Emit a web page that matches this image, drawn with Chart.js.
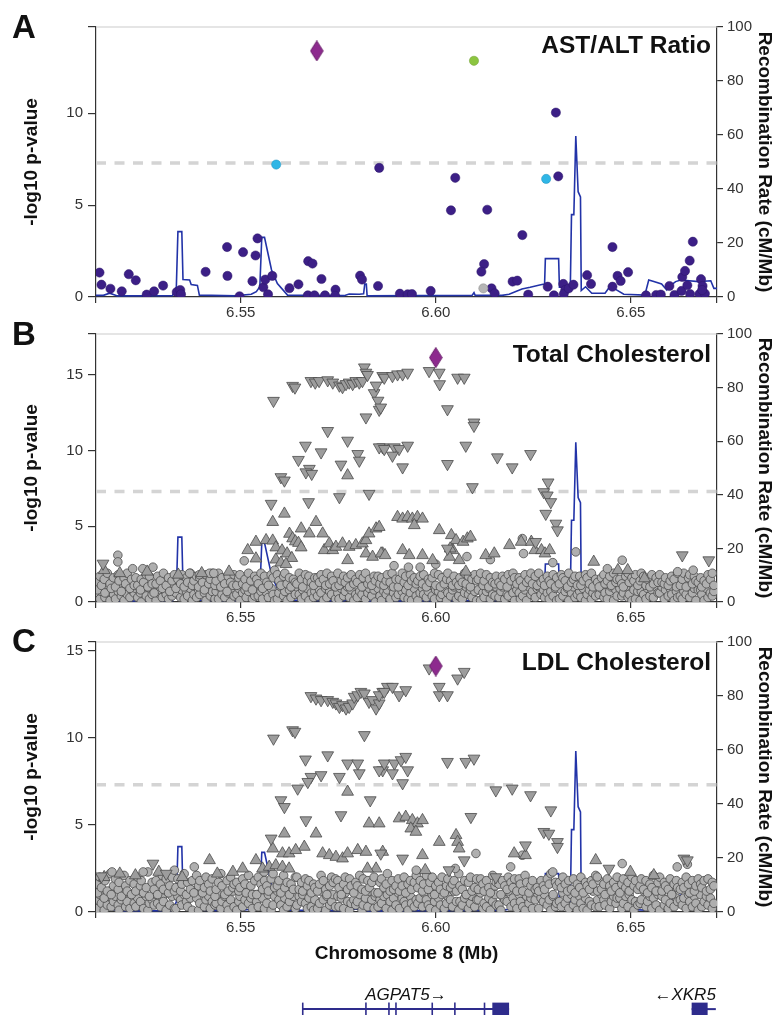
<!DOCTYPE html>
<html>
<head>
<meta charset="utf-8">
<script src="https://cdn.jsdelivr.net/npm/chart.js@4.4.1/dist/chart.umd.min.js"></script>
<style>
  body { margin: 0; background: #fff; width: 776px; height: 1023px; position: relative; overflow: hidden; }
  canvas { position: absolute; left: 0; }
</style>
</head>
<body>
<canvas id="chartA" width="776" height="320" style="top:0"></canvas>
<canvas id="chartB" width="776" height="305" style="top:320px"></canvas>
<canvas id="chartC" width="776" height="350" style="top:625px"></canvas>
<canvas id="chartGenes" width="776" height="48" style="top:975px"></canvas>
<script>
// x range (Mb) and tick values
const xMin = 6.5129;
const xMax = 6.6721;
const xTicks = [6.55, 6.60, 6.65];
const recTicks = [0, 20, 40, 60, 80, 100];
const pTicksA = [0, 5, 10];
const pTicksB = [0, 5, 10, 15];
const pTicksC = [0, 5, 10, 15];
const sigLevel = 7.3;

// recombination rate (cM/Mb), same map under every panel
const recX = [6.5128, 6.5148, 6.5164, 6.5184, 6.5325, 6.5335, 6.5339, 6.5349, 6.5352, 6.5369,
  6.5373, 6.5389, 6.5394, 6.5486, 6.5527, 6.5540, 6.5549, 6.5554, 6.5561, 6.5579,
  6.5594, 6.5620, 6.5765, 6.5778, 6.5804, 6.5815, 6.5818, 6.5822, 6.5824, 6.6093,
  6.6098, 6.6101, 6.6170, 6.6188, 6.6221, 6.6242, 6.6272, 6.6279, 6.6281, 6.6315,
  6.6317, 6.6345, 6.6348, 6.6354, 6.6359, 6.6365, 6.6371, 6.6373, 6.6384, 6.6400,
  6.6434, 6.6446, 6.6459, 6.6482, 6.6536, 6.6546, 6.6559, 6.6579, 6.6592, 6.6597,
  6.6615, 6.6628, 6.6674, 6.6705, 6.6713, 6.6721];
const recRate = [0.6, 0.6, 1.4, 0.4, 0.5, 3.8, 24.2, 24.2, 6.5, 6.3,
  4.6, 4.3, 0.7, 0.4, 1.0, 2.0, 3.8, 22.1, 22.1, 10,
  5, 0.7, 0.5, 1.1, 1.0, 1.2, 4.8, 4.8, 0.4, 0.6,
  1.6, 0.6, 0.6, 1.0, 3.0, 3.6, 4.6, 4.8, 14.2, 14.2,
  3.6, 3.8, 30.5, 30.5, 59.6, 39, 37.1, 2.4, 3.8, 1.4,
  1.4, 3.8, 3.0, 1.0, 0.7, 6.3, 5.7, 4.8, 2.6, 3.8,
  5.7, 6.3, 5.7, 6.0, 3.2, 3.2];

// panel A: AST/ALT ratio  [position Mb, -log10 p]
const aLead = [[6.5695, 13.4]];
const aGreen = [[6.6098, 12.86]];
const aCyan = [[6.5591, 7.21], [6.6283, 6.43]];
const aGrey = [[6.6122, 0.47]];
const aPurple = [[6.5138,1.33],[6.5143,0.67],[6.5166,0.45],[6.5195,0.31],[6.5213,1.24],[6.5231,0.91],[6.5259,0.13],[6.5278,0.31],
  [6.5301,0.62],[6.5336,0.27],[6.5345,0.38],[6.5347,0.15],[6.5410,1.37],[6.5465,2.72],[6.5466,1.15],[6.5497,0.04],
  [6.5506,2.44],[6.5530,0.86],[6.5538,2.26],[6.5543,3.19],[6.5558,0.53],[6.5563,0.95],[6.5570,0.15],[6.5581,1.15],
  [6.5625,0.48],[6.5648,0.69],[6.5673,1.95],[6.5684,1.82],[6.5672,0.09],[6.5689,0.09],[6.5707,0.98],[6.5716,0.09],
  [6.5743,0.40],[6.5742,0.07],[6.5806,1.16],[6.5811,0.95],[6.5852,0.60],[6.5908,0.18],[6.5928,0.15],[6.5855,7.03],
  [6.6039,4.72],[6.6050,6.49],[6.6132,4.75],[6.6222,3.37],[6.6124,1.79],[6.6117,1.38],[6.6143,0.47],[6.6151,0.20],
  [6.5987,0.33],[6.5939,0.16],[6.6197,0.84],[6.6209,0.89],[6.6237,0.13],[6.6287,0.56],[6.6303,0.09],[6.6327,0.71],
  [6.6332,0.38],[6.6328,0.16],[6.6341,0.47],[6.6353,0.67],[6.6388,1.19],[6.6398,0.71],[6.6453,2.72],[6.6466,1.15],
  [6.6474,0.87],[6.6453,0.56],[6.6493,1.35],[6.6539,0.09],[6.6565,0.11],[6.6577,0.13],[6.6599,0.60],[6.6612,0.11],
  [6.6630,0.33],[6.6632,1.09],[6.6639,1.42],[6.6645,0.64],[6.6651,1.98],[6.6659,3.01],[6.6652,0.16],[6.6680,0.97],
  [6.6684,0.60],[6.6676,0.16],[6.6690,0.18],[6.6683,0.38],[6.6308,10.04],[6.6314,6.57]];

// SNP positions of the dense low band (shared by panels B and C)
const bandPos = [6.5130, 6.5133, 6.5139, 6.5143, 6.5150, 6.5152, 6.5158, 6.5165, 6.5168, 6.5174,
  6.5179, 6.5186, 6.5188, 6.5194, 6.5201, 6.5205, 6.5209, 6.5216, 6.5220, 6.5227,
  6.5231, 6.5236, 6.5243, 6.5245, 6.5251, 6.5258, 6.5262, 6.5266, 6.5273, 6.5278,
  6.5283, 6.5287, 6.5294, 6.5299, 6.5302, 6.5309, 6.5315, 6.5318, 6.5324, 6.5330,
  6.5334, 6.5339, 6.5346, 6.5349, 6.5355, 6.5361, 6.5364, 6.5371, 6.5376, 6.5380,
  6.5387, 6.5392, 6.5395, 6.5402, 6.5407, 6.5411, 6.5418, 6.5422, 6.5427, 6.5434,
  6.5437, 6.5443, 6.5449, 6.5452, 6.5459, 6.5465, 6.5468, 6.5474, 6.5480, 6.5483,
  6.5490, 6.5495, 6.5498, 6.5505, 6.5511, 6.5514, 6.5520, 6.5526, 6.5530, 6.5536,
  6.5541, 6.5545, 6.5552, 6.5556, 6.5561, 6.5567, 6.5571, 6.5578, 6.5583, 6.5587,
  6.5594, 6.5598, 6.5603, 6.5610, 6.5613, 6.5619, 6.5625, 6.5629, 6.5635, 6.5640,
  6.5644, 6.5650, 6.5656, 6.5659, 6.5666, 6.5671, 6.5675, 6.5681, 6.5687, 6.5690,
  6.5697, 6.5702, 6.5706, 6.5712, 6.5718, 6.5721, 6.5728, 6.5733, 6.5737, 6.5743,
  6.5749, 6.5752, 6.5758, 6.5764, 6.5768, 6.5774, 6.5779, 6.5783, 6.5790, 6.5795,
  6.5799, 6.5805, 6.5811, 6.5814, 6.5820, 6.5826, 6.5830, 6.5836, 6.5842, 6.5845,
  6.5852, 6.5857, 6.5861, 6.5867, 6.5873, 6.5876, 6.5883, 6.5888, 6.5892, 6.5898,
  6.5904, 6.5907, 6.5914, 6.5919, 6.5923, 6.5929, 6.5935, 6.5938, 6.5945, 6.5950,
  6.5954, 6.5960, 6.5966, 6.5969, 6.5976, 6.5981, 6.5985, 6.5991, 6.5997, 6.6000,
  6.6007, 6.6012, 6.6016, 6.6022, 6.6028, 6.6031, 6.6038, 6.6043, 6.6047, 6.6053,
  6.6059, 6.6062, 6.6068, 6.6074, 6.6078, 6.6084, 6.6089, 6.6093, 6.6100, 6.6105,
  6.6109, 6.6115, 6.6121, 6.6124, 6.6130, 6.6136, 6.6140, 6.6146, 6.6152, 6.6155,
  6.6162, 6.6167, 6.6171, 6.6177, 6.6183, 6.6186, 6.6193, 6.6198, 6.6202, 6.6208,
  6.6214, 6.6217, 6.6223, 6.6229, 6.6233, 6.6239, 6.6244, 6.6248, 6.6255, 6.6260,
  6.6264, 6.6270, 6.6276, 6.6279, 6.6286, 6.6291, 6.6295, 6.6301, 6.6307, 6.6310,
  6.6317, 6.6322, 6.6326, 6.6332, 6.6338, 6.6341, 6.6348, 6.6353, 6.6357, 6.6363,
  6.6369, 6.6372, 6.6378, 6.6384, 6.6388, 6.6394, 6.6399, 6.6403, 6.6410, 6.6415,
  6.6419, 6.6425, 6.6431, 6.6434, 6.6440, 6.6446, 6.6450, 6.6456, 6.6462, 6.6465,
  6.6472, 6.6477, 6.6481, 6.6487, 6.6493, 6.6496, 6.6503, 6.6508, 6.6512, 6.6518,
  6.6524, 6.6527, 6.6533, 6.6539, 6.6543, 6.6549, 6.6554, 6.6558, 6.6565, 6.6570,
  6.6574, 6.6580, 6.6586, 6.6589, 6.6596, 6.6601, 6.6605, 6.6611, 6.6617, 6.6620,
  6.6627, 6.6632, 6.6636, 6.6642, 6.6648, 6.6651, 6.6658, 6.6663, 6.6667, 6.6673,
  6.6679, 6.6682, 6.6688, 6.6694, 6.6698, 6.6704, 6.6709, 6.6713];

// panel B: total cholesterol
const bBandLo = [0.4,0.9,0.2,0.7,1.0,0.3,0.6,0.1,0.8,0.5, 0.2,0.7,1.1,0.4,0.1,0.9,0.5,0.3,0.8,0.6,
  0.9,0.3,0.6,0.0,0.8,0.4,1.0,0.2,0.5,0.7, 0.1,0.6,0.8,0.3,0.9,0.5,0.2,1.1,0.4,0.7,
  0.6,1.0,0.3,0.8,0.2,0.7,0.4,0.9,0.1,0.5, 0.3,0.8,0.5,1.0,0.6,0.1,0.9,0.4,0.7,0.2,
  0.7,0.2,0.9,0.5,0.3,1.1,0.6,0.0,0.8,0.4, 0.5,0.9,0.1,0.6,0.8,0.3,0.7,1.0,0.2,0.4,
  0.8,0.4,0.7,0.2,1.0,0.6,0.3,0.9,0.5,0.1, 0.2,0.6,1.0,0.4,0.7,0.1,0.8,0.3,0.9,0.5,
  1.0,0.5,0.2,0.8,0.4,0.9,0.1,0.6,0.3,0.7, 0.4,0.8,0.6,0.1,0.9,0.3,0.7,0.5,1.1,0.2,
  0.6,0.2,0.9,0.4,0.7,1.0,0.3,0.8,0.1,0.5, 0.3,0.7,0.5,1.0,0.2,0.6,0.9,0.4,0.8,0.0,
  0.9,0.4,0.1,0.7,0.5,0.8,0.2,1.0,0.6,0.3, 0.5,1.0,0.7,0.3,0.8,0.2,0.6,0.1,0.9,0.4,
  0.1,0.6,0.9,0.5,0.3,0.7,1.1,0.4,0.2,0.8, 0.7,0.3,0.5,0.9,0.1,0.6,0.4,0.8,1.0,0.2,
  0.4,0.9,0.2,0.6,1.0,0.5,0.8,0.3,0.7,0.1, 0.8,0.1,0.6,0.3,0.7,0.9,0.2,0.5,0.4,1.0,
  0.3,0.7,1.0,0.2,0.5,0.4,0.9,0.6,0.1,0.8, 0.6,0.2,0.4,0.8,0.1,1.0,0.5,0.7,0.3,0.9,
  1.0,0.5,0.8,0.3,0.6,0.2,0.7,0.4,0.9,0.1, 0.2,0.8,0.4,0.7,0.9,0.1,0.6,1.0,0.3,0.5,
  0.7,0.3,0.9,0.1,0.5,0.8,0.2,0.6,0.4,1.1, 0.5,0.9,0.3,0.6,0.2,0.7,1.0,0.1,0.8,0.4,
  0.9,0.4,0.6,1.0,0.3,0.5,0.1,0.8,0.2,0.7, 0.1,0.7,0.5,0.2,0.9,0.4,0.8,0.3,1.0,0.6,
  0.6,1.0,0.2,0.8,0.4,0.9,0.5,0.1,0.7,0.3, 0.4,0.2,0.7,0.5,1.0,0.3,0.6,0.9,0.1,0.8,
  0.8,0.5,0.1,0.9,0.3,0.6,0.4,0.7];
const bBandHi = [1.3,0.8,1.7,1.1,1.5,0.6,1.9,1.2,0.9,1.6, 1.0,1.8,1.4,0.7,1.6,1.2,1.9,0.9,1.5,1.1,
  1.6,1.1,0.8,1.5,1.3,1.8,1.0,1.7,1.2,0.6, 1.2,1.7,1.4,0.9,1.9,1.1,1.6,0.7,1.4,1.8,
  0.9,1.5,1.2,1.8,1.0,1.6,1.3,1.9,1.1,1.4, 1.7,1.0,1.6,1.3,0.8,1.8,1.2,1.5,1.9,1.1,
  1.4,1.9,1.0,1.6,1.2,0.7,1.7,1.3,1.1,1.8, 1.1,1.6,1.8,1.2,1.5,1.0,1.9,1.4,0.8,1.7,
  1.5,1.2,1.9,0.9,1.7,1.3,1.1,1.8,1.6,2.1, 1.8,1.4,1.1,1.7,1.9,1.2,1.6,1.0,1.5,1.3,
  1.2,1.9,1.5,1.0,1.8,1.4,1.7,1.3,1.1,1.6, 1.6,1.3,1.8,1.5,1.1,1.9,1.2,1.7,1.4,1.0,
  1.9,1.1,1.4,1.7,1.3,1.6,1.0,1.8,1.2,1.5, 1.3,1.8,1.0,1.6,1.9,1.2,1.5,1.1,1.7,1.4,
  1.7,1.2,1.6,1.1,1.4,1.8,1.3,1.9,1.0,1.5, 1.0,1.5,1.9,1.3,1.7,1.1,1.8,1.4,1.6,1.2,
  1.4,1.7,1.2,1.8,1.0,1.5,1.3,1.6,1.9,1.1, 1.8,1.0,1.6,1.2,1.5,1.9,1.4,1.1,1.7,1.3,
  1.1,1.6,1.3,1.9,1.2,1.7,1.0,1.5,1.8,1.4, 1.5,1.9,1.1,1.4,1.8,1.0,1.6,1.3,1.2,1.7,
  1.3,1.1,1.7,1.5,1.0,1.8,1.4,1.9,1.6,1.2, 1.6,1.4,1.0,1.8,1.3,1.5,1.9,1.2,1.7,1.1,
  1.9,1.3,1.5,1.1,1.7,1.4,1.2,1.8,1.0,1.6, 1.2,1.8,1.6,1.4,1.0,1.9,1.3,1.5,1.7,1.1,
  1.7,1.1,1.4,1.8,1.6,1.2,1.9,1.0,1.5,1.3, 1.0,1.6,1.8,1.2,1.4,1.7,1.1,1.9,1.3,1.5,
  1.5,1.2,1.0,1.7,1.9,1.3,1.6,1.4,1.8,1.1, 1.4,1.9,1.7,1.1,1.5,1.0,1.8,1.2,1.6,1.3,
  1.8,1.3,1.2,1.6,1.1,1.4,1.7,1.5,1.0,1.9, 1.1,1.5,1.9,1.0,1.6,1.8,1.2,1.7,1.4,1.3,
  1.6,1.0,1.4,1.2,1.8,1.5,1.9,1.1];
const bCirc = [[6.5185,3.09],[6.5185,2.65],[6.5509,2.72],[6.6222,4.19],[6.6359,3.31],[6.6478,2.76],[6.5893,2.4],[6.5930,2.3],
  [6.5960,2.3],[6.6000,2.5],[6.6080,3.0],[6.6140,2.8],[6.6225,3.2],[6.6300,2.6],[6.6440,2.2],[6.6620,2.0],
  [6.6660,2.1],[6.5223,2.2],[6.5249,2.2],[6.5275,2.3],[6.5369,1.9],[6.5394,1.8],[6.5420,1.9],[6.5431,1.9]];
const bUp = [[6.5582,5.28],[6.5612,5.83],[6.5693,5.28],[6.5655,4.85],[6.5710,4.52],[6.5676,4.52],[6.5774,8.36],[6.5625,4.5],
  [6.5633,4.2],[6.5640,4.0],[6.5648,3.9],[6.5655,3.6],[6.5539,3.97],[6.5565,4.08],[6.5582,4.05],[6.5590,3.6],
  [6.5606,3.4],[6.5619,3.2],[6.5631,2.9],[6.5518,3.42],[6.5539,2.87],[6.5590,2.8],[6.5603,2.6],[6.5616,2.5],
  [6.5714,3.42],[6.5727,3.86],[6.5736,3.42],[6.5744,3.64],[6.5761,3.86],[6.5778,3.64],[6.5795,3.75],[6.5812,3.86],
  [6.5821,4.08],[6.5829,4.52],[6.5847,4.85],[6.5774,2.76],[6.5821,3.2],[6.5838,2.98],[6.5864,3.2],[6.5855,4.95],
  [6.5902,5.61],[6.5915,5.5],[6.5928,5.61],[6.5940,5.5],[6.5953,5.61],[6.5966,5.5],[6.5945,5.07],[6.6009,4.74],
  [6.6040,4.41],[6.6052,4.08],[6.6070,3.97],[6.6081,4.19],[6.6089,4.3],[6.6044,3.42],[6.6037,3.53],[6.6189,3.75],
  [6.6219,3.97],[6.6245,3.97],[6.6254,3.42],[6.6271,3.42],[6.6280,3.2],[6.6292,3.42],[6.6405,2.65],[6.6467,2.1],
  [6.6492,2.1],[6.6535,1.56],[6.5860,3.2],[6.5870,3.09],[6.5915,3.42],[6.5932,3.09],[6.5966,3.09],[6.5992,2.76],
  [6.6060,2.76],[6.6128,3.09],[6.6150,3.2],[6.6077,2.0],[6.6035,2.98],[6.5150,2.1],[6.5190,1.9],[6.5260,2.0],
  [6.5340,1.8],[6.5400,1.9],[6.5470,2.0]];
const bDown = [[6.5147,2.54],[6.5584,13.29],[6.5633,14.28],[6.5639,14.17],[6.5680,14.6],[6.5691,14.5],[6.5701,14.6],[6.5723,14.65],
  [6.5736,14.5],[6.5753,14.3],[6.5761,14.2],[6.5770,14.4],[6.5778,14.5],[6.5787,14.4],[6.5795,14.6],[6.5804,14.5],
  [6.5812,14.6],[6.5817,15.5],[6.5821,15.15],[6.5825,15.0],[6.5842,13.8],[6.5847,14.3],[6.5852,13.3],[6.5855,12.7],
  [6.5859,12.85],[6.5821,12.2],[6.5864,14.93],[6.5868,14.82],[6.5889,14.93],[6.5902,15.04],[6.5915,15.04],[6.5928,15.15],
  [6.5983,15.26],[6.6009,15.15],[6.6010,14.39],[6.6056,14.82],[6.6073,14.82],[6.6030,12.74],[6.6098,11.86],[6.6098,11.64],
  [6.5723,11.3],[6.5666,10.33],[6.5706,9.89],[6.5648,9.39],[6.5676,8.8],[6.5667,8.57],[6.5682,8.47],[6.5757,9.08],
  [6.5774,10.66],[6.5800,9.78],[6.5804,9.34],[6.5864,10.22],[6.5603,8.25],[6.5612,8.03],[6.5753,6.93],[6.5829,7.15],
  [6.5674,6.6],[6.5578,6.49],[6.5855,10.22],[6.5868,10.11],[6.5894,10.22],[6.5906,10.11],[6.5928,10.33],[6.5915,8.9],
  [6.5889,9.67],[6.6030,9.12],[6.6077,10.33],[6.6158,9.56],[6.6196,8.9],[6.6243,9.78],[6.6094,7.59],[6.6277,7.26],
  [6.6288,7.9],[6.6286,7.04],[6.6295,6.6],[6.6282,5.83],[6.6308,5.18],[6.6312,4.74],[6.6632,3.09],[6.6700,2.76],
  [6.6030,3.53],[6.6256,3.97]];
const bLead = [[6.6000, 16.14]];

// panel C: LDL cholesterol
const cBandLo = [0.7,0.2,1.0,0.5,0.1,0.8,0.4,1.2,0.3,0.6, 0.9,0.4,0.1,0.7,1.1,0.3,0.6,0.2,1.0,0.5,
  0.3,0.8,0.6,1.2,0.2,0.9,0.1,0.5,0.7,0.4, 1.0,0.5,0.3,0.8,0.6,0.1,1.1,0.4,0.9,0.2,
  0.2,0.9,0.7,0.4,1.0,0.6,0.3,0.8,0.1,1.2, 0.8,0.1,0.5,1.1,0.3,0.7,0.9,0.2,0.6,0.4,
  0.5,1.0,0.2,0.6,0.9,0.4,0.1,0.7,1.2,0.3, 0.1,0.6,0.9,0.3,0.7,1.1,0.5,0.8,0.2,1.0,
  0.6,0.3,1.1,0.8,0.2,0.5,1.0,0.1,0.4,0.9, 1.2,0.7,0.4,0.1,0.8,0.3,0.6,1.0,0.9,0.2,
  0.4,0.9,0.6,1.0,0.5,0.2,0.8,0.3,0.1,0.7, 0.2,0.5,1.2,0.7,0.1,0.9,0.4,0.6,1.0,0.3,
  0.9,0.3,0.8,0.2,1.1,0.6,0.1,0.5,0.7,0.4, 0.6,1.0,0.1,0.4,0.8,0.3,1.2,0.7,0.2,0.9,
  0.3,0.7,0.5,0.9,0.2,1.0,0.6,0.1,0.8,0.4, 1.1,0.2,0.8,0.6,0.4,0.1,0.9,0.5,0.3,0.7,
  0.5,0.8,0.3,1.1,0.7,0.4,0.2,1.0,0.6,0.1, 0.8,0.4,1.0,0.2,0.5,0.9,0.7,0.3,1.2,0.6,
  0.1,0.6,0.4,0.8,1.0,0.2,0.5,0.9,0.3,0.7, 0.7,1.1,0.2,0.5,0.3,0.8,0.1,0.6,1.0,0.4,
  0.4,0.1,0.9,0.7,0.6,1.2,0.3,0.8,0.5,0.2, 1.0,0.6,0.3,0.1,0.9,0.5,0.8,0.2,0.7,1.1,
  0.2,0.8,0.6,1.0,0.4,0.7,0.1,0.9,0.3,0.5, 0.6,0.3,1.1,0.5,0.8,0.2,1.0,0.4,0.7,0.1,
  0.9,0.5,0.2,0.8,0.1,0.6,0.4,1.2,0.3,0.7, 0.3,1.0,0.7,0.4,1.1,0.2,0.6,0.9,0.5,0.8,
  0.8,0.2,0.5,0.9,0.3,1.0,0.7,0.1,0.6,0.4, 0.5,0.7,1.2,0.3,0.6,0.9,0.2,0.8,0.4,1.0,
  0.1,0.9,0.4,0.7,0.2,0.5,1.1,0.3,0.8,0.6, 0.7,0.4,0.8,0.2,1.0,0.6,0.3,0.9,0.5,0.1,
  1.0,0.3,0.6,0.9,0.4,0.8,0.2,0.5];
const cBandHi = [1.6,1.1,2.0,1.4,0.8,1.8,1.2,2.2,1.0,1.5, 1.9,1.3,1.7,0.9,2.1,1.5,1.2,1.8,1.0,1.6,
  1.2,2.0,1.5,1.8,1.1,1.4,2.3,0.9,1.7,1.3, 1.8,1.0,1.6,2.1,1.3,1.9,1.1,1.5,2.0,1.2,
  1.4,1.9,1.2,1.6,2.2,1.0,1.7,1.3,1.8,1.1, 2.1,1.5,1.8,1.1,1.4,2.0,1.6,1.2,1.9,0.9,
  1.3,1.7,2.2,1.5,1.0,1.8,1.2,2.0,1.4,1.6, 1.7,1.2,1.4,1.9,1.6,1.1,2.1,1.5,1.0,1.8,
  1.0,2.0,1.6,1.3,1.8,1.5,1.2,1.9,2.2,1.4, 1.5,1.8,1.1,2.1,1.4,1.7,1.0,1.6,1.3,2.0,
  2.0,1.3,1.7,1.2,1.9,1.5,1.8,1.1,1.6,1.4, 1.2,1.6,2.1,1.8,1.3,1.0,1.5,2.0,1.7,1.9,
  1.8,1.4,1.0,1.6,2.0,1.3,1.9,1.5,1.1,1.7, 1.5,2.1,1.3,1.9,1.2,1.8,1.4,1.7,2.0,1.1,
  1.1,1.7,1.9,1.4,1.6,2.2,1.2,1.8,1.3,1.5, 1.9,1.2,1.5,2.0,1.1,1.6,1.8,1.3,1.7,2.1,
  1.4,1.8,1.2,1.6,2.1,1.3,1.7,2.0,1.0,1.5, 1.7,1.3,2.0,1.1,1.5,1.9,1.4,1.6,1.8,1.2,
  2.2,1.5,1.3,1.8,1.0,1.7,2.0,1.2,1.4,1.9, 1.3,1.9,1.6,1.2,1.8,1.4,1.1,2.1,1.5,1.7,
  1.6,1.0,1.8,1.5,1.3,2.0,1.7,1.4,1.9,1.2, 1.9,1.6,1.2,2.1,1.7,1.1,1.5,1.8,1.3,1.4,
  1.2,1.8,1.5,1.3,1.9,1.6,2.2,1.0,1.7,1.5, 1.7,1.4,2.0,1.6,1.2,1.8,1.3,1.9,1.1,1.6,
  1.4,2.0,1.1,1.7,1.5,1.3,1.8,1.6,2.1,1.2, 1.8,1.3,1.6,1.0,1.9,1.5,1.2,1.7,1.4,2.0,
  1.1,1.6,1.9,1.4,1.7,1.2,2.0,1.5,1.8,1.3, 1.5,1.9,1.3,1.8,1.1,1.6,1.4,2.1,1.2,1.7,
  2.0,1.2,1.7,1.5,1.3,1.9,1.0,1.6,1.8,1.4, 1.3,1.7,1.4,2.0,1.6,1.1,1.8,1.2,1.5,1.9,
  1.6,1.4,1.8,1.2,1.9,1.3,1.7,1.5];
const cCirc = [[6.5381,2.59],[6.6103,3.36],[6.6222,3.26],[6.6192,2.59],[6.6619,2.59],[6.6645,2.74],[6.6478,2.78],[6.6414,2.01],
  [6.5170,2.3],[6.5250,2.3],[6.5330,2.4],[6.5560,2.3],[6.5950,2.4],[6.6050,2.5],[6.6300,2.3]];
const cUp = [[6.5612,4.5],[6.5693,4.5],[6.5582,3.64],[6.5663,3.74],[6.5774,6.9],[6.5829,5.08],[6.5855,5.08],[6.5539,2.97],
  [6.5420,2.97],[6.5505,2.49],[6.5710,3.36],[6.5727,3.26],[6.5744,3.16],[6.5761,3.07],[6.5774,3.36],[6.5800,3.55],
  [6.5821,3.45],[6.5864,3.45],[6.5847,2.49],[6.5825,2.49],[6.5556,2.49],[6.5573,2.59],[6.5590,2.68],[6.5607,2.59],
  [6.5624,2.49],[6.5607,3.36],[6.5624,3.36],[6.5641,3.55],[6.5906,5.37],[6.5923,5.46],[6.5940,5.27],[6.5953,5.08],
  [6.5966,5.27],[6.5936,4.79],[6.5949,4.6],[6.6009,4.02],[6.6052,4.41],[6.6056,4.02],[6.6060,3.64],[6.5966,3.26],
  [6.6201,3.36],[6.6230,3.26],[6.6410,2.97],[6.6499,2.3],[6.6559,2.11],[6.5973,2.4],[6.5150,2.0],[6.5190,2.2],
  [6.5230,2.1],[6.5290,2.3],[6.5350,2.0],[6.5440,2.2],[6.5480,2.3]];
const cDown = [[6.5680,12.4],[6.5693,12.26],[6.5706,12.17],[6.5723,12.17],[6.5736,12.07],[6.5744,11.98],[6.5753,11.78],[6.5761,11.88],
  [6.5770,11.69],[6.5778,11.78],[6.5787,11.98],[6.5791,12.36],[6.5800,12.45],[6.5808,12.64],[6.5817,12.55],[6.5829,12.07],
  [6.5838,12.17],[6.5847,11.69],[6.5855,11.98],[6.5864,12.64],[6.5876,12.93],[6.5855,12.45],[6.5868,12.64],[6.5889,12.93],
  [6.5906,12.45],[6.5923,12.74],[6.5983,13.99],[6.6009,12.93],[6.6009,12.45],[6.6030,12.45],[6.6056,13.41],[6.6073,13.79],
  [6.5584,9.96],[6.5633,10.44],[6.5639,10.35],[6.5666,8.76],[6.5723,9.0],[6.5680,7.76],[6.5672,7.47],[6.5706,7.86],
  [6.5646,7.09],[6.5753,7.76],[6.5774,8.53],[6.5800,8.53],[6.5804,7.97],[6.5817,10.16],[6.5864,8.14],[6.5603,6.42],
  [6.5612,6.03],[6.5832,6.42],[6.5757,5.56],[6.5667,5.27],[6.5578,4.22],[6.5275,2.78],[6.5309,2.2],[6.5143,2.05],
  [6.5855,8.14],[6.5868,8.53],[6.5894,8.53],[6.5889,7.97],[6.5911,8.72],[6.5923,8.91],[6.5915,7.4],[6.5928,8.14],
  [6.6030,8.62],[6.6077,8.62],[6.6098,8.81],[6.6154,6.99],[6.6196,7.09],[6.6243,6.71],[6.6090,5.46],[6.6295,5.84],
  [6.6277,4.6],[6.6290,4.5],[6.6312,4.02],[6.6312,3.74],[6.6230,3.83],[6.6073,2.97],[6.6034,2.4],[6.6154,2.0],
  [6.6444,2.49],[6.6636,3.07],[6.6645,2.97],[6.5859,3.36],[6.5915,3.07]];
const cLead = [[6.6000, 14.12]];

// gene track (Mb)
const agpat5Span = [6.5659, 6.6188];
const agpat5Exons = [6.5659, 6.5821, 6.5880, 6.5898, 6.5991, 6.6049, 6.6125];
const agpat5Block = [6.6145, 6.6188];
const xkr5Span = [6.6656, 6.6718];
const xkr5Block = [6.6656, 6.6697];

const FONT = '"Liberation Sans", Arial, sans-serif';
Chart.defaults.font.family = FONT;
Chart.defaults.color = '#333';
Chart.defaults.animation = false;

function toPts(pairs) {
  return pairs.map(p => ({ x: p[0], y: p[1] }));
}
function bandPts(ys) {
  return bandPos.map((x, i) => ({ x: x, y: ys[i] }));
}

function makeDiamond() {
  const c = document.createElement('canvas');
  c.width = 14;
  c.height = 21;
  const g = c.getContext('2d');
  g.beginPath();
  g.moveTo(7, 0.5);
  g.lineTo(13.3, 10.5);
  g.lineTo(7, 20.5);
  g.lineTo(0.7, 10.5);
  g.closePath();
  g.fillStyle = '#8d2a8e';
  g.fill();
  g.strokeStyle = '#6a1e6b';
  g.lineWidth = 1;
  g.stroke();
  return c;
}
const diamond = makeDiamond();

const edge = '#4a4a4a';
const styles = {
  lead: { pointStyle: diamond, pointRadius: 10 },
  purple: { pointRadius: 4.6, pointBackgroundColor: '#3c1f86', pointBorderColor: '#2c176a', pointBorderWidth: 0.5 },
  green: { pointRadius: 4.6, pointBackgroundColor: '#8cc540', pointBorderColor: '#6c9c2e', pointBorderWidth: 0.5 },
  cyan: { pointRadius: 4.6, pointBackgroundColor: '#2fb6e6', pointBorderColor: '#1d8fba', pointBorderWidth: 0.5 },
  grey: { pointRadius: 4.6, pointBackgroundColor: '#b5b5b5', pointBorderColor: '#8a8a8a', pointBorderWidth: 0.5 },
  dot: { pointRadius: 4.3, pointBackgroundColor: '#afafaf', pointBorderColor: edge, pointBorderWidth: 0.8 },
  up: { pointStyle: 'triangle', pointRadius: 6.8, pointBackgroundColor: '#9d9d9d', pointBorderColor: edge, pointBorderWidth: 0.8 },
  down: { pointStyle: 'triangle', pointRotation: 180, pointRadius: 6.8, pointBackgroundColor: '#9d9d9d', pointBorderColor: edge, pointBorderWidth: 0.8 }
};

function markSet(data, style, order) {
  return Object.assign({ data: data, yAxisID: 'y', order: order, clip: 0, showLine: false }, style);
}
function recombSet(order) {
  return {
    data: recX.map((x, i) => ({ x: x, y: recRate[i] })),
    yAxisID: 'y2', showLine: true, borderColor: '#2233a8', borderWidth: 1.6,
    pointRadius: 0, order: order, clip: 0
  };
}
function sigSet(order) {
  return {
    data: [{ x: xMin, y: sigLevel }, { x: xMax, y: sigLevel }],
    yAxisID: 'y', showLine: true, borderColor: '#d4d4d4', borderWidth: 3.5,
    borderDash: [10, 8.5], pointRadius: 0, order: order
  };
}

function makeScales(yMax, yTicks, xAxisH, showXTitle) {
  const tickFont = { size: 15 };
  const titleFont = { size: 19, weight: 'bold' };
  return {
    x: {
      type: 'linear', min: xMin, max: xMax,
      afterBuildTicks: s => { s.ticks = [xMin].concat(xTicks, [xMax]).map(v => ({ value: v })); },
      afterFit: s => { s.height = xAxisH; },
      grid: { drawOnChartArea: false, drawTicks: true, tickLength: 6, color: '#333', lineWidth: 1.2 },
      border: { color: '#333', width: 1.2 },
      ticks: { autoSkip: false, maxRotation: 0, padding: 1, color: '#333', font: tickFont,
        callback: v => xTicks.includes(v) ? v.toFixed(2) : '' },
      title: { display: showXTitle, text: 'Chromosome 8 (Mb)', color: '#111', font: titleFont,
        padding: { top: 0, bottom: 9.5 } }
    },
    y: {
      type: 'linear', position: 'left', min: 0, max: yMax,
      afterBuildTicks: s => { s.ticks = yTicks.concat([yMax]).map(v => ({ value: v })); },
      afterFit: s => { s.width = 96; },
      grid: { drawOnChartArea: false, drawTicks: true, tickLength: 8, color: '#333', lineWidth: 1.2 },
      border: { color: '#333', width: 1.2 },
      ticks: { autoSkip: false, padding: 5, color: '#333', font: tickFont,
        callback: v => yTicks.includes(v) ? String(v) : '' },
      title: { display: true, text: '-log10 p-value', color: '#111', font: titleFont,
        padding: { top: 20, bottom: 0 } }
    },
    y2: {
      type: 'linear', position: 'right', min: 0, max: 100,
      afterBuildTicks: s => { s.ticks = recTicks.map(v => ({ value: v })); },
      afterFit: s => { s.width = 59; },
      grid: { drawOnChartArea: false, drawTicks: true, tickLength: 6, color: '#333', lineWidth: 1.2 },
      border: { color: '#333', width: 1.2 },
      ticks: { autoSkip: false, padding: 4, color: '#333', font: tickFont },
      title: { display: true, text: 'Recombination Rate (cM/Mb)', color: '#111', font: titleFont,
        padding: { top: 0, bottom: 0 } }
    }
  };
}

// letter, panel title and the light top border
const panelText = {
  id: 'panelText',
  beforeDatasetsDraw(chart, args, opts) {
    const { ctx, chartArea } = chart;
    ctx.save();
    ctx.strokeStyle = '#cccccc';
    ctx.lineWidth = 1.2;
    ctx.beginPath();
    ctx.moveTo(chartArea.left, chartArea.top);
    ctx.lineTo(chartArea.right, chartArea.top);
    ctx.stroke();
    ctx.restore();
  },
  afterDraw(chart, args, opts) {
    const { ctx, chartArea } = chart;
    ctx.save();
    ctx.fillStyle = '#111';
    ctx.textBaseline = 'alphabetic';
    ctx.textAlign = 'left';
    ctx.font = 'bold 33px ' + FONT;
    ctx.fillText(opts.letter, 12, opts.letterY);
    ctx.textAlign = 'right';
    ctx.font = 'bold 24.5px ' + FONT;
    ctx.fillText(opts.title, chartArea.right - 6, opts.titleY);
    ctx.restore();
  }
};

function makePanel(id, datasets, yMax, yTicks, padTop, xAxisH, showXTitle, text) {
  return new Chart(document.getElementById(id), {
    type: 'scatter',
    data: { datasets: datasets },
    options: {
      responsive: false,
      events: [],
      layout: { padding: { top: padTop, left: 0, right: 0, bottom: 0 } },
      scales: makeScales(yMax, yTicks, xAxisH, showXTitle),
      plugins: { legend: { display: false }, tooltip: { enabled: false }, panelText: text }
    },
    plugins: [panelText]
  });
}

makePanel('chartA', [
  markSet(toPts(aLead), styles.lead, 0),
  markSet(toPts(aGreen), styles.green, 1),
  markSet(toPts(aCyan), styles.cyan, 2),
  markSet(toPts(aGrey), styles.grey, 3),
  markSet(toPts(aPurple), styles.purple, 4),
  recombSet(5),
  sigSet(6)
], 14.7, pTicksA, 27, 23, false, { letter: 'A', title: 'AST/ALT Ratio', letterY: 38, titleY: 53 });

makePanel('chartB', [
  markSet(toPts(bLead), styles.lead, 0),
  markSet(toPts(bDown), styles.down, 1),
  markSet(toPts(bUp), styles.up, 2),
  markSet(toPts(bCirc), styles.dot, 3),
  markSet(bandPts(bBandHi), styles.dot, 4),
  markSet(bandPts(bBandLo), styles.dot, 5),
  recombSet(6),
  sigSet(7)
], 17.7, pTicksB, 12, 23, false, { letter: 'B', title: 'Total Cholesterol', letterY: 25, titleY: 42 });

makePanel('chartC', [
  markSet(toPts(cLead), styles.lead, 0),
  markSet(toPts(cDown), styles.down, 1),
  markSet(toPts(cUp), styles.up, 2),
  markSet(toPts(cCirc), styles.dot, 3),
  markSet(bandPts(cBandHi), styles.dot, 4),
  markSet(bandPts(cBandLo), styles.dot, 5),
  recombSet(6),
  sigSet(7)
], 15.5, pTicksC, 17, 63, true, { letter: 'C', title: 'LDL Cholesterol', letterY: 27, titleY: 45 });

// gene track
const geneCol = '#2e2c8c';
const geneLabels = {
  id: 'geneLabels',
  afterDatasetsDraw(chart) {
    const { ctx, scales } = chart;
    const base = scales.y.getPixelForValue(0) - 9.5;
    ctx.save();
    ctx.fillStyle = '#111';
    ctx.font = 'italic 17px ' + FONT;
    ctx.textBaseline = 'alphabetic';
    ctx.textAlign = 'center';
    ctx.fillText('AGPAT5\u2192', scales.x.getPixelForValue((agpat5Span[0] + agpat5Span[1]) / 2), base);
    ctx.textAlign = 'right';
    ctx.fillText('\u2190XKR5', scales.x.getPixelForValue(xkr5Span[1]), base);
    ctx.restore();
  }
};
function segment(span, width) {
  return { data: span.map(x => ({ x: x, y: 0 })), showLine: true, borderColor: geneCol,
    borderWidth: width, borderCapStyle: 'butt', pointRadius: 0 };
}
new Chart(document.getElementById('chartGenes'), {
  type: 'scatter',
  data: {
    datasets: [
      segment(agpat5Span, 2),
      { data: agpat5Exons.map(x => ({ x: x, y: 0 })), pointStyle: 'line', pointRotation: 90, pointRadius: 6.5,
        pointBorderColor: geneCol, pointBorderWidth: 1.6, showLine: false },
      segment(agpat5Block, 13),
      segment(xkr5Span, 2),
      segment(xkr5Block, 13)
    ]
  },
  options: {
    responsive: false,
    events: [],
    layout: { padding: { left: 96, right: 59, top: 0, bottom: 0 } },
    scales: {
      x: { type: 'linear', display: false, min: xMin, max: xMax },
      y: { type: 'linear', display: false, min: -1, max: 4.5 }
    },
    plugins: { legend: { display: false }, tooltip: { enabled: false } }
  },
  plugins: [geneLabels]
});
</script>
</body>
</html>
